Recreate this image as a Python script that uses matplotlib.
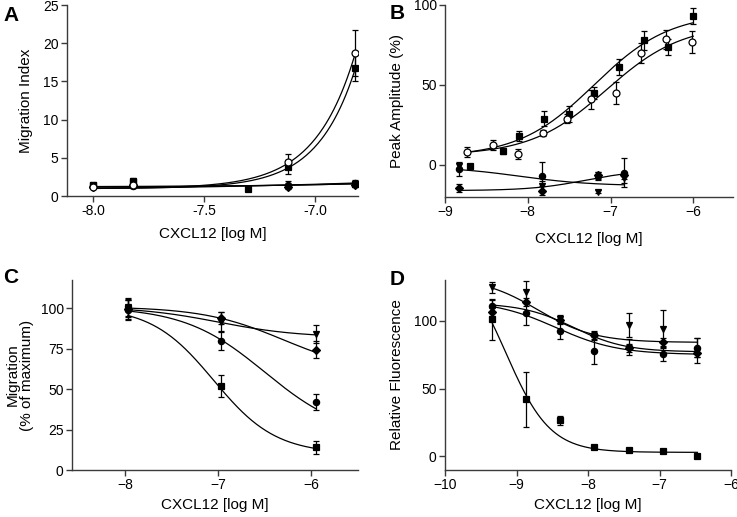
import numpy as np
import matplotlib
matplotlib.use("Agg")
import matplotlib.pyplot as plt

plt.rcParams['font.family'] = ['Liberation Sans', 'DejaVu Sans']

# ---------------- Panel A data ----------------
A_x = [-8.0, -7.82, -7.12, -6.82]
A_open_y = [1.2, 1.5, 4.5, 18.7]
A_open_err = [0.2, 0.3, 1.0, 3.0]
A_sq_y = [1.5, 1.9, 3.8, 16.8]
A_sq_err = [0.2, 0.4, 0.9, 1.8]
A_circ_y = [1.3, 1.3, 1.5, 1.7]
A_circ_err = [0.2, 0.2, 0.5, 0.4]
A_dia_y = [1.2, 1.4, 1.2, 1.5]
A_dia_err = [0.2, 0.3, 0.3, 0.3]
A_sq2_x = [-8.0, -7.82, -7.3, -6.82]
A_sq2_y = [1.4, 1.8, 0.9, 1.6]
A_sq2_err = [0.2, 0.3, 0.1, 0.3]
# exponential fit parameters: base, amplitude, rate (relative to last dose)
A_fit_open = [1.0, 17.5, 5.55]
A_fit_sq = [1.0, 15.5, 5.83]
A_fit_flat1 = [1.1, 0.5, 1.5]
A_fit_flat2 = [0.6, 1.1, 0.9]
A_fit_flat3 = [1.2, 0.4, 2.0]

# ---------------- Panel B data ----------------
B_sq_x = [-8.7, -8.3, -8.1, -7.8, -7.5, -7.2, -6.9, -6.6, -6.3, -6.0]
B_sq_y = [-0.4, 8.8, 18, 29, 32, 45, 61.5, 78, 73.5, 93]
B_sq_err = [1, 2, 3, 4.5, 5, 4, 5, 6, 5, 5]
B_open_x = [-8.73, -8.42, -8.12, -7.82, -7.52, -7.23, -6.93, -6.63, -6.33, -6.02]
B_open_y = [8, 12.5, 7, 20, 29, 41, 45, 70, 78.5, 77]
B_open_err = [3, 3, 3, 2, 3, 6, 7, 6, 6, 7]
B_low_x = [-8.83, -7.83, -7.15, -6.84]
B_circ_y = [-2.5, -7, -6.9, -4.8]
B_circ_err = [4.5, 9, 2.5, 9]
B_dia_y = [-14.6, -16, -6.5, -6.5]
B_dia_err = [2.5, 3, 2, 2]
B_tri_y = [-0.8, -13, -16.7, -8.3]
B_tri_err = [2, 3, 1, 3]
# 4PL fits: bottom, top, logEC50, hill
B_fit_sq = [5, 95, -7.2, 0.95]
B_fit_open = [6, 88, -7.05, 0.95]
B_fit_low1 = [-13, -1, -8.1, -1.0]
B_fit_low2 = [-16, -3, -7.3, 1.3]

# ---------------- Panel C data ----------------
C_x = [-7.97, -6.97, -5.95]
C_sq_y = [100, 52, 14]
C_sq_err = [5, 7, 4]
C_circ_y = [99, 80, 42]
C_circ_err = [6, 6, 5]
C_dia_y = [99.5, 94, 74.5]
C_dia_err = [6, 3.5, 5]
C_tri_y = [100.5, 91.5, 84]
C_tri_err = [6, 6, 5.5]
# 4PL fits: bottom, top, logIC50, hill
C_fit_sq = [10, 101, -7.05, -1.3]
C_fit_circ = [20, 101, -6.5, -1.0]
C_fit_dia = [60, 101, -6.3, -1.0]
C_fit_tri = [82, 101, -7.0, -1.0]

# ---------------- Panel D data ----------------
D_x = [-9.34, -8.87, -8.39, -7.91, -7.43, -6.95, -6.47]
D_sq_y = [101, 42, 26.5, 6.6, 4.4, 4.2, 0]
D_sq_err = [15, 20, 3, 0.8, 0.8, 0.8, 0.8]
D_tri_y = [124.5, 121.3, 101, 89, 96.8, 93.9, 78]
D_tri_err = [4, 8, 3, 3, 9, 14, 9]
D_dia_y = [106.6, 113.5, 100.7, 89.7, 80, 84.5, 76.5]
D_dia_err = [3, 3, 3, 3, 3, 3, 3]
D_circ_y = [110.5, 105.6, 92.6, 78, 80.4, 75.5, 80]
D_circ_err = [5, 9, 6, 10, 6, 5, 7]
D_fit_sq = [3, 150, -9.15, -1.4]
D_fit_tri = [84, 132, -8.7, -1.1]
D_fit_dia = [77, 113, -8.2, -1.2]
D_fit_circ = [75, 115, -8.45, -1.0]

W, H = 737, 517
fig = plt.figure(figsize=(W / 100, H / 100), dpi=100)

def make_ax(l, r, t, b):
    return fig.add_axes([l / W, 1 - b / H, (r - l) / W, (b - t) / H])

SPINE = '#3a3a3a'
TICK = 10
LBL = 11

def style(ax):
    for s in ['top', 'right']:
        ax.spines[s].set_visible(False)
    for s in ['left', 'bottom']:
        ax.spines[s].set_color(SPINE)
        ax.spines[s].set_linewidth(1.0)
    ax.tick_params(direction='out', length=4, width=1.0, color=SPINE,
                   labelsize=TICK, pad=2)

def logistic(x, p):
    bottom, top, ec, h = p
    return bottom + (top - bottom) / (1 + 10 ** ((ec - x) * h))

def expo(x, p, xend):
    base, amp, k = p
    return base + amp * np.exp(k * (x - xend))

def pts(ax, x, y, err, marker, filled=True, ms=4.5):
    ax.errorbar(x, y, yerr=err, fmt=marker, color='black', ms=ms,
                mfc='black' if filled else 'white', mec='black', mew=0.9,
                ecolor='black', elinewidth=0.9, capsize=2.5, capthick=0.9, zorder=3)

def curve(ax, x0, x1, f):
    xs = np.linspace(x0, x1, 200)
    ax.plot(xs, f(xs), color='black', lw=0.9, zorder=2)

# ---------- A ----------
axA = make_ax(67, 358, 5, 196)
style(axA)
xe = A_x[-1]
for p in [A_fit_flat1, A_fit_flat2, A_fit_flat3]:
    curve(axA, A_x[0], xe, lambda xs, p=p: expo(xs, p, xe))
curve(axA, A_x[0], xe, lambda xs: expo(xs, A_fit_open, xe))
curve(axA, A_x[0], xe, lambda xs: expo(xs, A_fit_sq, xe))
pts(axA, A_x, A_circ_y, A_circ_err, 'o')
pts(axA, A_x, A_dia_y, A_dia_err, 'D', ms=4)
pts(axA, A_sq2_x, A_sq2_y, A_sq2_err, 's')
pts(axA, A_x, A_sq_y, A_sq_err, 's')
pts(axA, A_x, A_open_y, A_open_err, 'o', filled=False, ms=5)
axA.set_xlim(-8.117, -6.806)
axA.set_ylim(0, 25)
axA.set_xticks([-8.0, -7.5, -7.0])
axA.set_xticklabels(['-8.0', '-7.5', '-7.0'])
axA.set_yticks([0, 5, 10, 15, 20, 25])
axA.set_xlabel('CXCL12 [log M]', fontsize=LBL, labelpad=6)
axA.set_ylabel('Migration Index', fontsize=LBL, labelpad=7)

# ---------- B ----------
axB = make_ax(445, 733, 5, 197)
style(axB)
curve(axB, -8.75, -6.0, lambda xs: logistic(xs, B_fit_sq))
curve(axB, -8.75, -6.0, lambda xs: logistic(xs, B_fit_open))
curve(axB, B_low_x[0], B_low_x[-1], lambda xs: logistic(xs, B_fit_low1))
curve(axB, B_low_x[0], B_low_x[-1], lambda xs: logistic(xs, B_fit_low2))
pts(axB, B_low_x, B_tri_y, B_tri_err, 'v')
pts(axB, B_low_x, B_dia_y, B_dia_err, 'D', ms=4)
pts(axB, B_low_x, B_circ_y, B_circ_err, 'o')
pts(axB, B_sq_x, B_sq_y, B_sq_err, 's')
pts(axB, B_open_x, B_open_y, B_open_err, 'o', filled=False, ms=5)
axB.set_xlim(-9, -5.52)
axB.set_ylim(-20, 100)
axB.set_xticks([-9, -8, -7, -6])
axB.set_yticks([0, 50, 100])
axB.set_xlabel('CXCL12 [log M]', fontsize=LBL, labelpad=9)
axB.set_ylabel('Peak Amplitude (%)', fontsize=LBL, labelpad=7)

# ---------- C ----------
axC = make_ax(72, 358, 280, 470)
style(axC)
for p in [C_fit_sq, C_fit_circ, C_fit_dia, C_fit_tri]:
    curve(axC, C_x[0], C_x[-1], lambda xs, p=p: logistic(xs, p))
pts(axC, C_x, C_tri_y, C_tri_err, 'v')
pts(axC, C_x, C_dia_y, C_dia_err, 'D', ms=4)
pts(axC, C_x, C_circ_y, C_circ_err, 'o')
pts(axC, C_x, C_sq_y, C_sq_err, 's')
axC.set_xlim(-8.57, -5.5)
axC.set_ylim(0, 117.5)
axC.set_xticks([-8, -7, -6])
axC.set_yticks([0, 25, 50, 75, 100])
axC.set_xlabel('CXCL12 [log M]', fontsize=LBL, labelpad=4)
axC.set_ylabel('Migration\n(% of maximum)', fontsize=LBL, labelpad=5,
               linespacing=0.95)

# ---------- D ----------
axD = make_ax(445, 731, 280, 470)
style(axD)
for p in [D_fit_sq, D_fit_tri, D_fit_dia, D_fit_circ]:
    curve(axD, D_x[0], D_x[-1], lambda xs, p=p: logistic(xs, p))
pts(axD, D_x, D_tri_y, D_tri_err, 'v')
pts(axD, D_x, D_dia_y, D_dia_err, 'D', ms=4)
pts(axD, D_x, D_circ_y, D_circ_err, 'o')
pts(axD, D_x, D_sq_y, D_sq_err, 's')
axD.set_xlim(-10, -6)
axD.set_ylim(-10, 130)
axD.set_xticks([-10, -9, -8, -7, -6])
axD.set_yticks([0, 50, 100])
axD.set_xlabel('CXCL12 [log M]', fontsize=LBL, labelpad=4)
axD.set_ylabel('Relative Fluorescence', fontsize=LBL, labelpad=7)

# panel letters
for lab, x, y in [('A', 3, 6), ('B', 390, 4), ('C', 3, 268), ('D', 390, 270)]:
    fig.text(x / W, 1 - y / H, lab, fontsize=15, fontweight='bold',
             va='top', ha='left')

fig.savefig('out.png', dpi=100)
